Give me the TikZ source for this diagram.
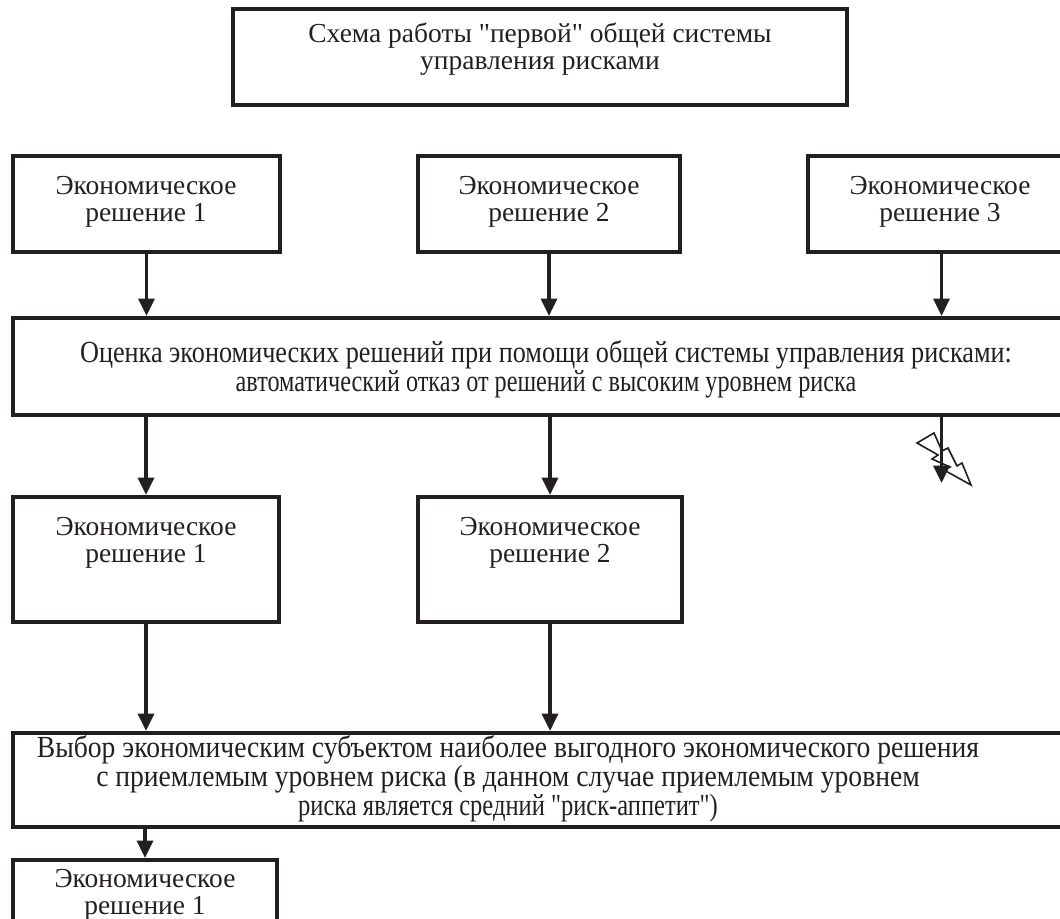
\documentclass[tikz,border=0pt]{standalone}
\usepackage{fontspec}
\setmainfont{Liberation Serif}
\newfontfamily\normfont{Liberation Serif}
\newfontfamily\condfont[FakeStretch=0.855]{Liberation Serif}
\newfontfamily\condnarrow[FakeStretch=0.79]{Liberation Serif}
\newfontfamily\condfontb[FakeStretch=0.9]{Liberation Serif}
\newfontfamily\condfontn[FakeStretch=0.8]{Liberation Serif}
\usetikzlibrary{arrows.meta,fit}
\definecolor{ink}{HTML}{231F20}
\begin{document}
\begin{tikzpicture}[x=0.75pt,y=-0.75pt,
  box/.style={draw=ink,line width=3pt,inner sep=0pt},
  txt/.style={align=center,font=\normfont\fontsize{20.6}{19.8}\selectfont,text=ink,inner sep=0pt},
  wide/.style={align=center,font=\fontsize{23}{20.5}\selectfont,text=ink,inner sep=0pt},
  arr/.style={draw=ink,line width=2.6pt,-{Triangle[length=13pt,width=12pt]}},
  bolt/.style={draw=ink,line width=1.2pt,line join=miter}]
\useasboundingbox (0,0) rectangle (1060,919);
\clip (0,0) rectangle (1060,919);
% title
\node[box,fit={(233,9)(847,105)}] (title) {};
\node[txt] (titletext) at (540,49) {Схема работы "первой" общей системы\\управления рисками};
% row 1
\node[box,fit={(13,156)(280,252)}] (d1) {};
\node[box,fit={(418,156)(680,252)}] (d2) {};
\node[box,fit={(808,156)(1075,252)}] (d3) {};
\node[txt] (d1t) at (146,202) {Экономическое\\решение 1};
\node[txt] (d2t) at (549,202) {Экономическое\\решение 2};
\node[txt] (d3t) at (940,202) {Экономическое\\решение 3};
% evaluation
\node[box,fit={(13,318)(1075,415)}] (eval) {};
\node[wide] (evalt) at (546,369) {\condfont Оценка экономических решений при помощи общей системы управления рисками:\\\condnarrow автоматический отказ от решений с высоким уровнем риска};
\draw[arr] (d1.south) -- (d1.south |- eval.north);
\draw[arr] (d2.south) -- (d2.south |- eval.north);
\draw[arr] (d3.south) -- (d3.south |- eval.north);
% row 3
\node[box,fit={(13,497)(279,622)}] (r1) {};
\node[box,fit={(418,497)(682,622)}] (r2) {};
\node[txt] (r1t) at (146,543) {Экономическое\\решение 1};
\node[txt] (r2t) at (550,543) {Экономическое\\решение 2};
\draw[arr] (r1.north |- eval.south) -- (r1.north);
\draw[arr] (r2.north |- eval.south) -- (r2.north);
% rejected branch with lightning
\coordinate (rej) at (941.5,483);
\draw[bolt] (917,443) -- (934,433) -- (942,451) -- (948,448) -- (957,466) -- (962,463) -- (971,485) -- (944,470) -- (950,467) -- (932,459) -- (938,455) -- cycle;
\draw[arr] (d3.south |- eval.south) -- (rej);
% choice
\node[box,fit={(13,733)(1075,827)}] (choice) {};
\node[wide] (choicet) at (508,779) {\condfontb Выбор экономическим субъектом наиболее выгодного экономического решения\\\condfontb с приемлемым уровнем риска (в данном случае приемлемым уровнем\\\condfontn риска является средний "риск-аппетит")};
\draw[arr] (r1.south) -- (r1.south |- choice.north);
\draw[arr] (r2.south) -- (r2.south |- choice.north);
% final
\node[box,fit={(13,860)(277,950)}] (fin) {};
\node[txt] (fint) at (145,895) {Экономическое\\решение 1};
\draw[arr] (fin.north |- choice.south) -- (fin.north);
\end{tikzpicture}
\end{document}
